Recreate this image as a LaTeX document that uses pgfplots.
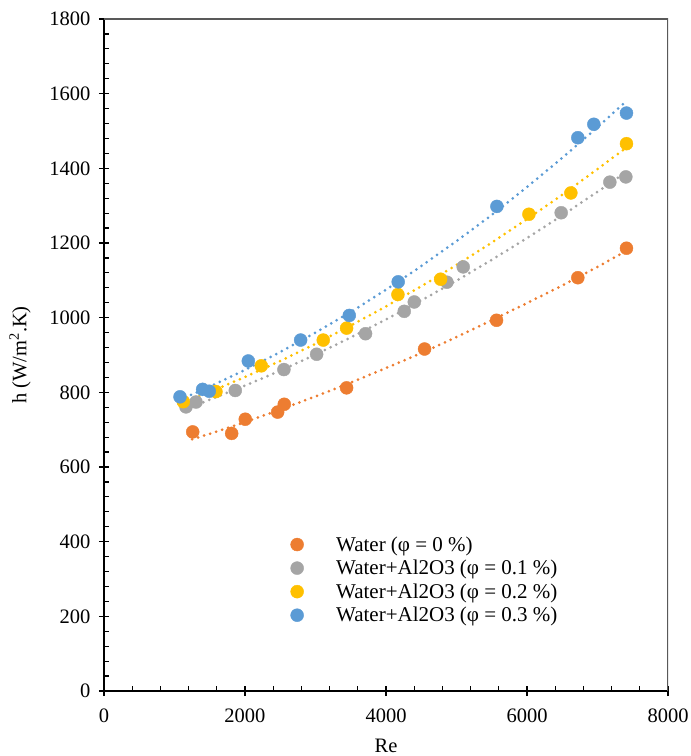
\documentclass[border=0pt]{standalone}
\usepackage{pgfplots}
\pgfplotsset{compat=1.18}
\usepackage{fontspec}
\setmainfont{Liberation Serif}
\definecolor{cwater}{HTML}{ED7D31}
\definecolor{cone}{HTML}{A5A5A5}
\definecolor{ctwo}{HTML}{FFC000}
\definecolor{cthree}{HTML}{5B9BD5}
\definecolor{frame}{HTML}{595959}
\begin{document}
\begin{tikzpicture}
\useasboundingbox (-104bp,-65bp) rectangle (587bp,691bp);
\begin{axis}[
  scale only axis, width=564bp, height=672bp,
  xmin=0, xmax=8000, ymin=0, ymax=1800,
  axis x line*=bottom, axis y line*=left,
  axis line style={black, line width=1.5bp},
  xtick distance=2000, ytick distance=200,
  minor x tick num=4, minor y tick num=4,
  tick align=center, major tick length=10bp, minor tick length=5bp,
  tick style={black, line width=1.2bp},
  minor x tick style={yshift=2.5bp},
  minor y tick style={xshift=2.5bp},
  ticklabel style={font=\fontsize{20.5bp}{24bp}\selectfont},
  xticklabel style={yshift=-9bp},
  yticklabel style={xshift=-5bp},
  /pgf/number format/1000 sep={},
  /pgf/number format/assume math mode=true,
  xlabel={Re}, ylabel={h (W/m\textsuperscript{2}.K)},
  label style={font=\fontsize{20.5bp}{24bp}\selectfont},
  xlabel style={yshift=-10bp},
  ylabel style={yshift=12bp},
  legend cell align=left,
  legend style={draw=none, fill=none, at={(axis cs:2595,425)}, anchor=north west,
    font=\fontsize{21bp}{23bp}\selectfont, row sep=3.5bp},
  legend image code/.code={\path[draw=none] (0bp,0bp) -- (44bp,0bp);\draw[#1] plot coordinates {(7bp,0bp)};},
]
\addplot[only marks, mark=*, mark size=6.5bp, color=cwater, mark options={fill=cwater, draw=cwater}] coordinates {
(1258,694) (1811,690) (2004,728) (2463,747) (2557,768) (3441,812) (4547,916) (5568,993) (6721,1107) (7411,1186)};
\addlegendentry{Water (φ = 0 \%)}
\addplot[only marks, mark=*, mark size=6.5bp, color=cone, mark options={fill=cone, draw=cone}] coordinates {
(1163,761) (1305,774) (1862,805) (2552,861) (3016,902) (3710,957) (4259,1017) (4401,1042) (4864,1095) (5095,1136) (6485,1281) (7175,1363) (7402,1377)};
\addlegendentry{Water+Al2O3 (φ = 0.1 \%)}
\addplot[only marks, mark=*, mark size=6.5bp, color=ctwo, mark options={fill=ctwo, draw=ctwo}] coordinates {
(1125,775) (1588,802) (2231,871) (3110,940) (3441,972) (4169,1062) (4775,1103) (6027,1277) (6622,1334) (7411,1466)};
\addlegendentry{Water+Al2O3 (φ = 0.2 \%)}
\addplot[only marks, mark=*, mark size=6.5bp, color=cthree, mark options={fill=cthree, draw=cthree}] coordinates {
(1078,788) (1399,808) (1493,803) (2047,884) (2789,940) (3479,1006) (4173,1096) (5573,1298) (6721,1482) (6948,1518) (7411,1548)};
\addlegendentry{Water+Al2O3 (φ = 0.3 \%)}
% dotted trendlines
\addplot[forget plot, cwater, line width=3bp, line cap=round, dash pattern=on 0bp off 6.3bp] coordinates {
(1250,674) (1500,689) (2000,720) (2500,754) (3000,789) (3500,826) (4000,865) (4500,905) (5000,948) (5500,993) (6000,1039) (6500,1086) (7000,1136) (7420,1180)};
\addplot[forget plot, cone, line width=3bp, line cap=round, dash pattern=on 0bp off 6.3bp] coordinates {
(1160,755) (1500,780) (2000,818) (2500,858) (3000,901) (3500,947) (4000,995) (4500,1046) (5000,1099) (5500,1155) (6000,1213) (6500,1274) (7000,1337) (7420,1392)};
\addplot[forget plot, ctwo, line width=3bp, line cap=round, dash pattern=on 0bp off 6.3bp] coordinates {
(1100,771) (1500,801) (2000,841) (2500,884) (3000,930) (3500,979) (4000,1030) (4500,1084) (5000,1141) (5500,1201) (6000,1264) (6500,1329) (7000,1398) (7420,1457)};
\addplot[forget plot, cthree, line width=3bp, line cap=round, dash pattern=on 0bp off 6.3bp] coordinates {
(1070,780) (1500,815) (2000,860) (2500,908) (3000,960) (3500,1015) (4000,1075) (4500,1138) (5000,1205) (5500,1275) (6000,1350) (6500,1428) (7000,1510) (7420,1582)};
\draw[frame, line width=1.2bp] (rel axis cs:0,1) -- (rel axis cs:1,1) -- (rel axis cs:1,0);
\end{axis}
\end{tikzpicture}
\end{document}
